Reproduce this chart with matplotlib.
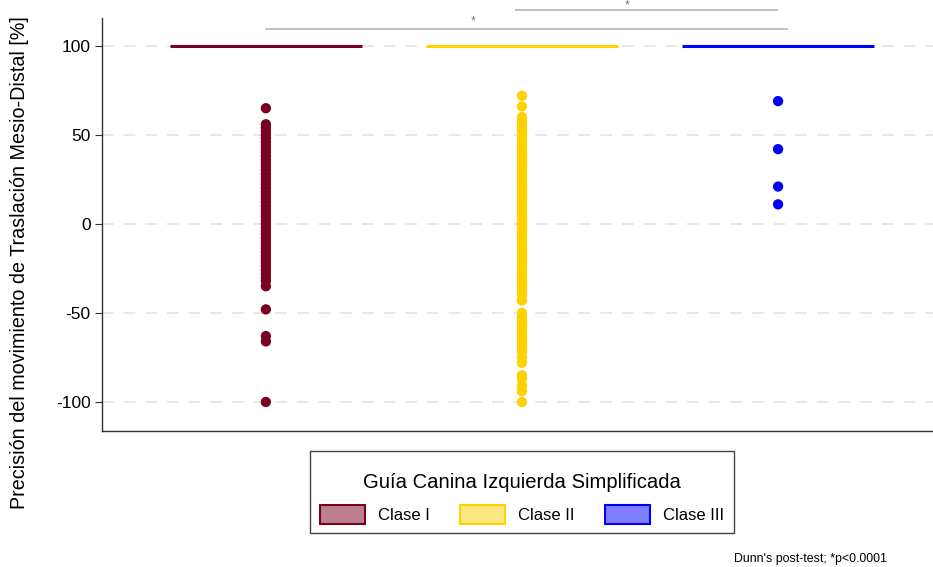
import matplotlib
matplotlib.use("Agg")
import matplotlib.pyplot as plt
from matplotlib.colors import to_rgba
from matplotlib.patches import Patch, Rectangle

plt.rcParams["font.family"] = ["Liberation Sans", "DejaVu Sans"]

# Groups and their colours
categories = ["Clase I", "Clase II", "Clase III"]
colors = ["#7A0021", "#FFD100", "#0000FF"]

# Median of each group (most observations sit at 100 %)
medians = [100, 100, 100]

# Observations away from the median, per group
clase_i = [65, 56, 54, 52, 50, 48, 46, 44, 42, 40, 38, 36, 34, 32, 30, 28, 26,
           24, 22, 20, 18, 16, 14, 12, 10, 8, 6, 4, 2, 0, -2, -4, -6, -8, -10,
           -12, -14, -16, -18, -20, -22, -24, -26, -28, -30, -32, -35,
           -48, -63, -66, -100]
clase_ii = [72, 66, 60, 58, 56, 54, 52, 50, 48, 46, 44, 42, 40, 38, 36, 34, 32,
            30, 28, 26, 24, 22, 20, 18, 16, 14, 12, 10, 8, 6, 4, 2, 0, -2, -4,
            -6, -8, -10, -12, -14, -16, -18, -20, -22, -24, -26, -28, -30, -32,
            -34, -36, -38, -40, -43, -50, -52, -54, -56, -58, -60, -62, -64,
            -66, -68, -70, -72, -75, -78, -85, -87, -91, -94, -100]
clase_iii = [69, 42, 21, 11]
groups = [clase_i, clase_ii, clase_iii]

# Dunn's post-test brackets: (x start, x end, bar height, star x, star y)
comparisons = [(0.0, 2.035, 109.5, 0.81, 114.0),
               (0.975, 1.995, 120.2, 1.41, 122.5)]

yticks = [-100, -50, 0, 50, 100]

fig = plt.figure(figsize=(9.33, 5.67), dpi=100)
ax = fig.add_axes([0.1093, 0.2399, 0.8907, 0.7284])

ax.set_xlim(-0.64, 2.605)
ax.set_ylim(-116.3, 115.7)

for y in yticks:
    ax.axhline(y, color="#E4E4E4", lw=1.2, ls=(0, (7, 6)), zorder=0)

box_w = 0.75
for i, (vals, med, col) in enumerate(zip(groups, medians, colors)):
    ax.hlines(med, i - box_w / 2, i + box_w / 2, color=col, lw=2.2, zorder=2)
    ax.scatter([i] * len(vals), vals, s=55, color=col, edgecolors="none", zorder=3)

for x0, x1, h, sx, sy in comparisons:
    ax.plot([x0, x1], [h, h], color="#BDBDBD", lw=1.3, clip_on=False, zorder=1)
    ax.text(sx, sy, "*", ha="center", va="center", fontsize=9, color="#777777",
            clip_on=False)

ax.set_yticks(yticks)
ax.set_yticklabels([str(t) for t in yticks], fontsize=12.5)
ax.set_xticks([])
ax.tick_params(axis="y", length=5, width=0.8, color="#333333", pad=3)
for s in ["top", "right"]:
    ax.spines[s].set_visible(False)
for s in ["left", "bottom"]:
    ax.spines[s].set_color("#333333")
    ax.spines[s].set_linewidth(1.0)

fig.text(0.021, 0.536, "Precisión del movimiento de Traslación Mesio-Distal [%]",
         rotation=90, ha="center", va="center", fontsize=14.2)

# Legend content, with its frame drawn as a separate box
handles = [Patch(facecolor=to_rgba(c, 0.5), edgecolor=c, lw=1.5) for c in colors]
leg = fig.legend(handles, categories, ncol=3, loc="center",
                 bbox_to_anchor=(0.5595, 0.1215), title="Guía Canina Izquierda Simplificada",
                 fontsize=12, title_fontsize=14.6, frameon=False,
                 handlelength=2.7, handleheight=1.3, columnspacing=1.8,
                 handletextpad=0.8, borderpad=0.0, borderaxespad=0)
leg._legend_box.sep = 10
fig.add_artist(Rectangle((310 / 933, 1 - 533 / 567), 424 / 933, 82 / 567,
                         transform=fig.transFigure, fill=False,
                         edgecolor="#444444", lw=1.0))

fig.text(0.869, 0.0145, "Dunn's post-test; *p<0.0001", ha="center", va="center",
         fontsize=8.9)

fig.savefig("out.png", dpi=100)
